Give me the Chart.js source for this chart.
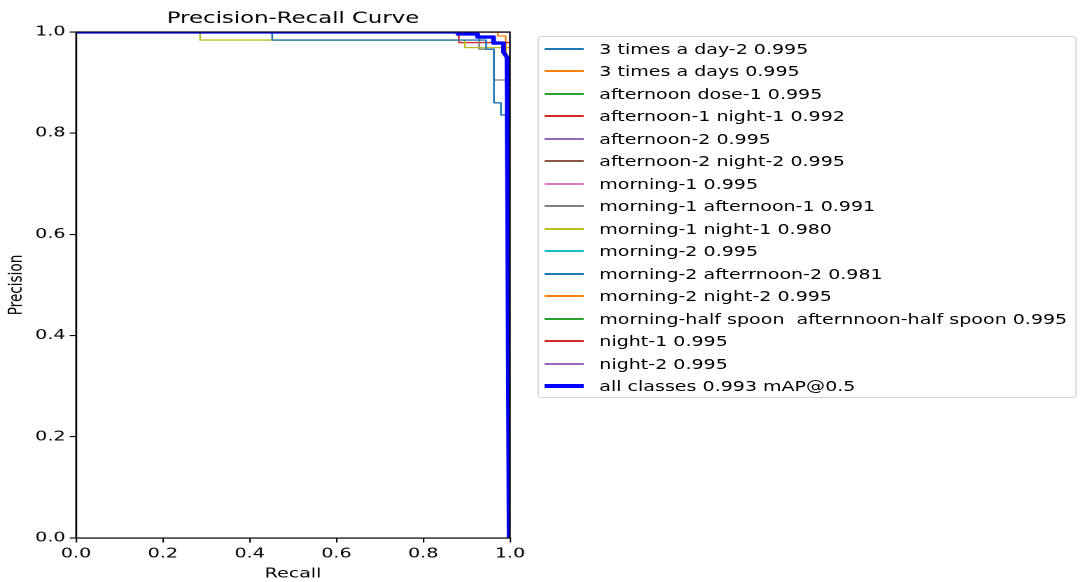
<!DOCTYPE html>
<html>
<head>
<meta charset="utf-8">
<script src="https://cdn.jsdelivr.net/npm/chart.js@4.4.1/dist/chart.umd.min.js"></script>
<style>
  html, body { margin: 0; padding: 0; background: #fff; overflow: hidden; }
  /* the reference picture is stretched sideways, so the whole figure is drawn narrow and scaled */
  #stage { position: absolute; left: 0; top: 0; width: 772px; height: 582px; transform: scaleX(1.4); transform-origin: 0 0; }
  #chartBox { position: absolute; left: 0; top: 0; width: 772px; height: 582px; }
  #legend { position: absolute; left: 383.6px; top: 36px; width: 385.5px; height: 362px; box-sizing: border-box;
            border: 1px solid #d4d4d4; border-radius: 3px; font-family: "DejaVu Sans"; font-size: 13.6px; color: #000; }
  .row { position: absolute; left: 0; right: 0; height: 20px; }
  .handle { position: absolute; left: 4.5px; width: 28px; }
  .label { position: absolute; left: 43.5px; top: 0; line-height: 20px; white-space: pre; }
</style>
</head>
<body>
<div id="stage">
  <div id="chartBox"><canvas id="prChart"></canvas></div>
  <div id="legend"></div>
</div>
<script>
// class names and their AP@0.5 values, as in the legend
const classNames = [
  "3 times a day-2", "3 times a days", "afternoon dose-1", "afternoon-1 night-1",
  "afternoon-2", "afternoon-2 night-2", "morning-1", "morning-1 afternoon-1",
  "morning-1 night-1", "morning-2", "morning-2 afterrnoon-2", "morning-2 night-2",
  "morning-half spoon  afternnoon-half spoon", "night-1", "night-2"
];
const classAP = [0.995, 0.995, 0.995, 0.992, 0.995, 0.995, 0.995, 0.991, 0.980, 0.995, 0.981, 0.995, 0.995, 0.995, 0.995];
const allClassesMAP = 0.993;

// matplotlib tab10 cycle
const lineColors = ["#1f77b4", "#ff7f0e", "#2ca02c", "#d62728", "#9467bd", "#8c564b", "#e377c2", "#7f7f7f",
                    "#bcbd22", "#17becf", "#1f77b4", "#ff7f0e", "#2ca02c", "#d62728", "#9467bd"];

// step curves (recall, precision)
const perfectRecall = [0, 1, 1];
const perfectPrecision = [1, 1, 0];
const recall3TimesADays = [0, 0.972, 0.972, 0.99, 1];
const precision3TimesADays = [1, 1, 0.992, 0.992, 0];
const recallAfternoon1Night1 = [0, 0.882, 0.882, 1, 1];
const precisionAfternoon1Night1 = [1, 1, 0.979, 0.979, 0];
const recallMorning1Afternoon1 = [0, 0.929, 0.929, 0.963, 0.963, 1, 1];
const precisionMorning1Afternoon1 = [1, 1, 0.966, 0.966, 0.905, 0.905, 0];
const recallMorning1Night1 = [0, 0.286, 0.286, 0.896, 0.896, 1, 1];
const precisionMorning1Night1 = [1, 1, 0.984, 0.984, 0.969, 0.969, 0];
const recallMorning2Afternoon2 = [0, 0.452, 0.452, 0.945, 0.945, 0.963, 0.963, 0.979, 0.979, 0.99, 1];
const precisionMorning2Afternoon2 = [1, 1, 0.984, 0.984, 0.966, 0.966, 0.86, 0.86, 0.836, 0.836, 0];
const recallAllClasses = [0, 0.88, 0.88, 0.925, 0.925, 0.962, 0.962, 0.985, 0.985, 0.993, 0.998];
const precisionAllClasses = [1, 1, 0.996, 0.996, 0.99, 0.99, 0.978, 0.978, 0.96, 0.95, 0];

const curveRecall = [
  perfectRecall, recall3TimesADays, perfectRecall, recallAfternoon1Night1,
  perfectRecall, perfectRecall, perfectRecall, recallMorning1Afternoon1,
  recallMorning1Night1, perfectRecall, recallMorning2Afternoon2, perfectRecall,
  perfectRecall, perfectRecall, perfectRecall
];
const curvePrecision = [
  perfectPrecision, precision3TimesADays, perfectPrecision, precisionAfternoon1Night1,
  perfectPrecision, perfectPrecision, perfectPrecision, precisionMorning1Afternoon1,
  precisionMorning1Night1, perfectPrecision, precisionMorning2Afternoon2, perfectPrecision,
  perfectPrecision, perfectPrecision, perfectPrecision
];

const axisTicks = [0, 0.2, 0.4, 0.6, 0.8, 1.0];

const toPoints = (xs, ys) => xs.map((x, i) => ({ x: x, y: ys[i] }));

// one dataset per class, later ones drawn on top like matplotlib
const datasets = classNames.map((name, i) => ({
  label: name + " " + classAP[i].toFixed(3),
  data: toPoints(curveRecall[i], curvePrecision[i]),
  borderColor: lineColors[i],
  borderWidth: 1.3,
  order: classNames.length - i + 1,
}));
datasets.push({
  label: "all classes " + allClassesMAP.toFixed(3) + " mAP@0.5",
  data: toPoints(recallAllClasses, precisionAllClasses),
  borderColor: "blue",
  borderWidth: 3.4,
  order: 0,
});

const font = { family: "DejaVu Sans", size: 13.6, lineHeight: 1.2 };

// matplotlib draws the spines above the curves
const spinesOnTop = {
  id: "spinesOnTop",
  afterDatasetsDraw(chart) {
    const { ctx, chartArea: a } = chart;
    ctx.save();
    ctx.strokeStyle = "#000";
    ctx.lineWidth = 1.1;
    ctx.strokeRect(a.left, a.top, a.right - a.left, a.bottom - a.top);
    ctx.restore();
  },
};

const axisGrid = { drawOnChartArea: false, drawTicks: true, tickLength: 4.5, color: "#000", lineWidth: 1.1 };

new Chart(document.getElementById("prChart"), {
  type: "line",
  data: { datasets: datasets },
  plugins: [spinesOnTop],
  options: {
    responsive: true,
    maintainAspectRatio: false,
    animation: false,
    devicePixelRatio: 2,
    layout: { padding: { left: 0, top: 0, right: 407.7, bottom: 0 } },
    elements: { point: { radius: 0 }, line: { tension: 0, borderJoinStyle: "round" } },
    datasets: { line: { clip: 0, fill: false } },
    plugins: {
      legend: { display: false },
      tooltip: { enabled: false },
      title: {
        display: true,
        text: "Precision-Recall Curve",
        fullSize: false,
        color: "#000",
        font: { family: "DejaVu Sans", size: 16.3, weight: "normal", lineHeight: 1.2 },
        padding: { top: 9, bottom: 3.4 },
      },
    },
    scales: {
      x: {
        type: "linear",
        min: 0,
        max: 1,
        afterBuildTicks: (s) => { s.ticks = axisTicks.map((v) => ({ value: v })); },
        ticks: { callback: (v) => v.toFixed(1), color: "#000", font: font, padding: 3.5, maxRotation: 0, autoSkip: false },
        grid: axisGrid,
        border: { color: "#000", width: 1.1 },
        title: { display: true, text: "Recall", color: "#000", font: font, padding: { top: 0, bottom: 0 } },
        afterFit: (s) => { s.height = 44; s.paddingLeft = 0; s.paddingRight = 0; },
      },
      y: {
        type: "linear",
        min: 0,
        max: 1,
        afterBuildTicks: (s) => { s.ticks = axisTicks.map((v) => ({ value: v })); },
        ticks: { callback: (v) => v.toFixed(1), color: "#000", font: font, padding: 3, autoSkip: false },
        grid: axisGrid,
        border: { color: "#000", width: 1.1 },
        title: { display: true, text: "Precision", color: "#000", font: font, padding: { top: 4, bottom: 0 } },
        afterFit: (s) => { s.width = 54.3; s.paddingTop = 0; s.paddingBottom = 0; },
      },
    },
  },
});

// legend box outside the axes, like bbox_to_anchor=(1.04, 1)
const legendEl = document.getElementById("legend");
datasets.forEach((ds, i) => {
  const handleHeight = ds.borderWidth > 2 ? 4 : 1.5;
  const row = document.createElement("div");
  row.className = "row";
  row.style.top = Math.round(2 + 22.47 * i) + "px";
  const handle = document.createElement("div");
  handle.className = "handle";
  handle.style.height = handleHeight + "px";
  handle.style.top = Math.round(10 - handleHeight / 2) + "px";
  handle.style.background = ds.borderColor;
  const label = document.createElement("div");
  label.className = "label";
  label.textContent = ds.label;
  row.appendChild(handle);
  row.appendChild(label);
  legendEl.appendChild(row);
});
</script>
</body>
</html>
